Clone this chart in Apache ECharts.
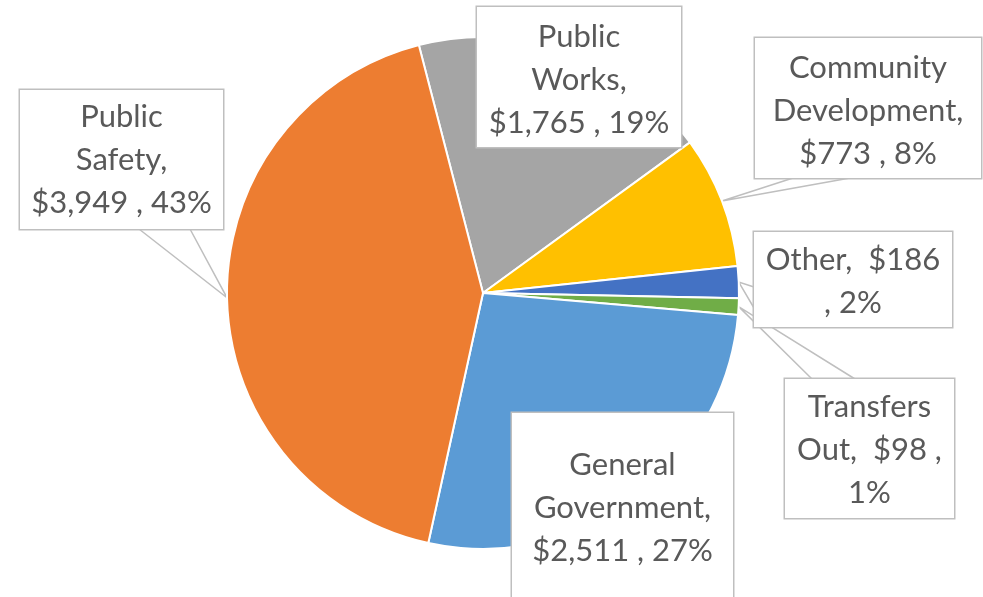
<!DOCTYPE html>
<html>
<head>
<meta charset="utf-8">
<script src="https://cdn.jsdelivr.net/npm/echarts@6/dist/echarts.min.js"></script>
<style>
  html, body { margin: 0; padding: 0; background: #fff; }
  #chart { width: 983px; height: 597px; }
</style>
</head>
<body>
<div id="chart"></div>
<script>
// slices, clockwise from the Public Works / Public Safety boundary
const categories = ['Public Works', 'Community Development', 'Other', 'Transfers Out', 'General Government', 'Public Safety']
const amounts = [1765, 773, 186, 98, 2511, 3949]
const sliceColors = ['#A5A5A5', '#FFC000', '#4472C4', '#70AD47', '#5B9BD5', '#ED7D31']

// how each data label wraps ({v} = amount, {p} = percent)
const labelTemplates = [
  'Public\nWorks,\n{v} , {p}',
  'Community\nDevelopment,\n{v} , {p}',
  'Other,  {v}\n, {p}',
  'Transfers\nOut,  {v} ,\n{p}',
  'General\nGovernment,\n{v} , {p}',
  'Public\nSafety,\n{v} , {p}'
]

// callout boxes: [left, top, width, height, padTop, wedge [side, from, to]]
const labelBoxes = [
  [477, 7, 204, 140, 8, null],
  [755, 38, 226, 140, 8, ['bottom', 38, 95]],
  [754, 232, 198, 95, 6, ['left', 55, 76]],
  [785, 379, 169, 139, 6, ['top', 27, 70]],
  [512, 413, 221, 200, 30, null],
  [20, 90, 203, 139, 5, ['bottom', 119, 170]]
]

const chart = echarts.init(document.getElementById('chart'))

const seriesData = categories.map((name, i) => {
  const b = labelBoxes[i]
  return {
    name: name,
    value: amounts[i],
    itemStyle: { color: sliceColors[i] },
    label: {
      width: b[2],
      height: b[3] - b[4],
      padding: [b[4], 0, 0, 0]
    },
    labelLine: { show: !!b[5] }
  }
})

const wedgePoints = (b, tip) => {
  const w = b[5]
  let p1, p2
  if (w[0] === 'bottom') {
    p1 = [b[0] + w[1], b[1] + b[3]]
    p2 = [b[0] + w[2], b[1] + b[3]]
  } else if (w[0] === 'top') {
    p1 = [b[0] + w[1], b[1]]
    p2 = [b[0] + w[2], b[1]]
  } else {
    p1 = [b[0], b[1] + w[1]]
    p2 = [b[0], b[1] + w[2]]
  }
  return [p1, tip, p2]
}

chart.setOption({
  backgroundColor: '#fff',
  animation: false,
  series: [
    {
      type: 'pie',
      center: [483, 293],
      radius: 256,
      startAngle: 104.5,
      clockwise: true,
      percentPrecision: 0,
      avoidLabelOverlap: false,
      emphasis: { disabled: true },
      itemStyle: { borderColor: '#fff', borderWidth: 2 },
      label: {
        show: true,
        position: 'outside',
        fontFamily: 'Lato',
        fontSize: 31,
        lineHeight: 43,
        color: '#595959',
        align: 'center',
        backgroundColor: '#fff',
        borderColor: '#BFBFBF',
        borderWidth: 1.5,
        formatter: (p) => labelTemplates[p.dataIndex]
          .replace('{v}', '$' + p.value.toLocaleString('en-US'))
          .replace('{p}', p.percent + '%')
      },
      labelLine: {
        show: true,
        smooth: false,
        lineStyle: { color: '#BFBFBF', width: 1.5 }
      },
      labelLayout: (params) => {
        const b = labelBoxes[params.dataIndex]
        const res = { x: b[0] + b[2] / 2, y: b[1], align: 'center', verticalAlign: 'top' }
        if (b[5] && params.labelLinePoints) {
          res.labelLinePoints = wedgePoints(b, params.labelLinePoints[0])
        }
        return res
      },
      data: seriesData
    }
  ]
})
</script>
</body>
</html>
